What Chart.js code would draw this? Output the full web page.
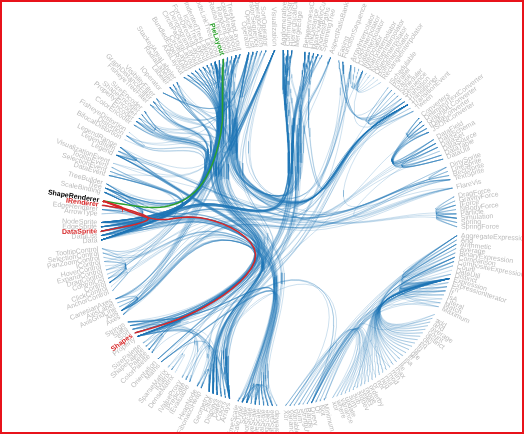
<!DOCTYPE html>
<html>
<head>
<meta charset="utf-8">
<script src="https://cdn.jsdelivr.net/npm/chart.js@4"></script>
<style>
  body { margin: 0; background: #fff; }
  #wrap { position: relative; width: 524px; height: 434px; }
  #frame { position: absolute; left: 0; top: 0; width: 524px; height: 434px; box-sizing: border-box;
           border: 2px solid #e8131b; pointer-events: none; }
</style>
</head>
<body>
<div id="wrap">
  <canvas id="bundle" width="524" height="434"></canvas>
  <div id="frame"></div>
</div>
<script>
'use strict';

// class names of the flare package
var classNames = [
  'analytics.cluster.AgglomerativeCluster', 'analytics.cluster.CommunityStructure', 'analytics.cluster.HierarchicalCluster', 'analytics.cluster.MergeEdge',
  'analytics.graph.BetweennessCentrality', 'analytics.graph.LinkDistance', 'analytics.graph.MaxFlowMinCut', 'analytics.graph.ShortestPaths', 'analytics.graph.SpanningTree',
  'analytics.optimization.AspectRatioBanker',
  'animate.Easing', 'animate.FunctionSequence', 'animate.interpolate.ArrayInterpolator', 'animate.interpolate.ColorInterpolator', 'animate.interpolate.DateInterpolator',
  'animate.interpolate.Interpolator', 'animate.interpolate.MatrixInterpolator', 'animate.interpolate.NumberInterpolator', 'animate.interpolate.ObjectInterpolator',
  'animate.interpolate.PointInterpolator', 'animate.interpolate.RectangleInterpolator', 'animate.ISchedulable', 'animate.Parallel', 'animate.Pause', 'animate.Scheduler',
  'animate.Sequence', 'animate.Transition', 'animate.Transitioner', 'animate.TransitionEvent', 'animate.Tween',
  'data.converters.Converters', 'data.converters.DelimitedTextConverter', 'data.converters.GraphMLConverter', 'data.converters.IDataConverter', 'data.converters.JSONConverter',
  'data.DataField', 'data.DataSchema', 'data.DataSet', 'data.DataSource', 'data.DataTable', 'data.DataUtil',
  'display.DirtySprite', 'display.LineSprite', 'display.RectSprite', 'display.TextSprite',
  'flex.FlareVis',
  'physics.DragForce', 'physics.GravityForce', 'physics.IForce', 'physics.NBodyForce', 'physics.Particle', 'physics.Simulation', 'physics.Spring', 'physics.SpringForce',
  'query.AggregateExpression', 'query.And', 'query.Arithmetic', 'query.Average', 'query.BinaryExpression', 'query.Comparison', 'query.CompositeExpression', 'query.Count',
  'query.DateUtil', 'query.Distinct', 'query.Expression', 'query.ExpressionIterator', 'query.Fn', 'query.If', 'query.IsA', 'query.Literal', 'query.Match', 'query.Maximum',
  'query.methods.add', 'query.methods.and', 'query.methods.average', 'query.methods.count', 'query.methods.distinct', 'query.methods.div', 'query.methods.eq',
  'query.methods.fn', 'query.methods.gt', 'query.methods.gte', 'query.methods.iff', 'query.methods.isa', 'query.methods.lt', 'query.methods.lte', 'query.methods.max',
  'query.methods.min', 'query.methods.mod', 'query.methods.mul', 'query.methods.neq', 'query.methods.not', 'query.methods.or', 'query.methods.orderby',
  'query.methods.range', 'query.methods.select', 'query.methods.stddev', 'query.methods.sub', 'query.methods.sum', 'query.methods.update', 'query.methods.variance',
  'query.methods.where', 'query.methods.xor', 'query.methods._',
  'query.Minimum', 'query.Not', 'query.Or', 'query.Query', 'query.Range', 'query.StringUtil', 'query.Sum', 'query.Variable', 'query.Variance', 'query.Xor',
  'scale.IScaleMap', 'scale.LinearScale', 'scale.LogScale', 'scale.OrdinalScale', 'scale.QuantileScale', 'scale.QuantitativeScale', 'scale.RootScale', 'scale.Scale',
  'scale.ScaleType', 'scale.TimeScale',
  'util.Arrays', 'util.Colors', 'util.Dates', 'util.Displays', 'util.Filter', 'util.Geometry', 'util.heap.FibonacciHeap', 'util.heap.HeapNode', 'util.IEvaluable',
  'util.IPredicate', 'util.IValueProxy', 'util.math.DenseMatrix', 'util.math.IMatrix', 'util.math.SparseMatrix', 'util.Maths', 'util.Orientation',
  'util.palette.ColorPalette', 'util.palette.Palette', 'util.palette.ShapePalette', 'util.palette.SizePalette', 'util.Property', 'util.Shapes', 'util.Sort',
  'util.Stats', 'util.Strings',
  'vis.axis.Axes', 'vis.axis.Axis', 'vis.axis.AxisGridLine', 'vis.axis.AxisLabel', 'vis.axis.CartesianAxes',
  'vis.controls.AnchorControl', 'vis.controls.ClickControl', 'vis.controls.Control', 'vis.controls.ControlList', 'vis.controls.DragControl', 'vis.controls.ExpandControl',
  'vis.controls.HoverControl', 'vis.controls.IControl', 'vis.controls.PanZoomControl', 'vis.controls.SelectionControl', 'vis.controls.TooltipControl',
  'vis.data.Data', 'vis.data.DataList', 'vis.data.DataSprite', 'vis.data.EdgeSprite', 'vis.data.NodeSprite', 'vis.data.render.ArrowType', 'vis.data.render.EdgeRenderer',
  'vis.data.render.IRenderer', 'vis.data.render.ShapeRenderer', 'vis.data.ScaleBinding', 'vis.data.Tree', 'vis.data.TreeBuilder',
  'vis.events.DataEvent', 'vis.events.SelectionEvent', 'vis.events.TooltipEvent', 'vis.events.VisualizationEvent',
  'vis.legend.Legend', 'vis.legend.LegendItem', 'vis.legend.LegendRange',
  'vis.operator.distortion.BifocalDistortion', 'vis.operator.distortion.Distortion', 'vis.operator.distortion.FisheyeDistortion',
  'vis.operator.encoder.ColorEncoder', 'vis.operator.encoder.Encoder', 'vis.operator.encoder.PropertyEncoder', 'vis.operator.encoder.ShapeEncoder', 'vis.operator.encoder.SizeEncoder',
  'vis.operator.filter.FisheyeTreeFilter', 'vis.operator.filter.GraphDistanceFilter', 'vis.operator.filter.VisibilityFilter', 'vis.operator.IOperator',
  'vis.operator.label.Labeler', 'vis.operator.label.RadialLabeler', 'vis.operator.label.StackedAreaLabeler',
  'vis.operator.layout.AxisLayout', 'vis.operator.layout.BundledEdgeRouter', 'vis.operator.layout.CircleLayout', 'vis.operator.layout.CirclePackingLayout',
  'vis.operator.layout.DendrogramLayout', 'vis.operator.layout.ForceDirectedLayout', 'vis.operator.layout.IcicleTreeLayout', 'vis.operator.layout.IndentedTreeLayout',
  'vis.operator.layout.Layout', 'vis.operator.layout.NodeLinkTreeLayout', 'vis.operator.layout.PieLayout', 'vis.operator.layout.RadialTreeLayout',
  'vis.operator.layout.RandomLayout', 'vis.operator.layout.StackedAreaLayout', 'vis.operator.layout.TreeMapLayout',
  'vis.operator.Operator', 'vis.operator.OperatorList', 'vis.operator.OperatorSequence', 'vis.operator.OperatorSwitch', 'vis.operator.SortOperator',
  'vis.Visualization'
];

// "Class: imported classes"
var imports = [
  'AgglomerativeCluster: Transitioner,DataList,DataSprite,EdgeSprite,NodeSprite,Operator,Property,Sort,Arrays',
  'CommunityStructure: HierarchicalCluster,Transitioner,DataList,DataSprite,NodeSprite,Operator,Arrays,Property,Sort,SparseMatrix,IMatrix',
  'HierarchicalCluster: EdgeSprite,NodeSprite,DataList,Tree,Arrays,Operator,Property',
  'BetweennessCentrality: FibonacciHeap,HeapNode,Data,DataList,NodeSprite,Operator,Property',
  'LinkDistance: Transitioner,Data,EdgeSprite,NodeSprite,Operator,Arrays,Property',
  'MaxFlowMinCut: Transitioner,Data,EdgeSprite,NodeSprite,Operator,Property',
  'ShortestPaths: FibonacciHeap,HeapNode,Data,DataSprite,EdgeSprite,NodeSprite,Operator,Arrays,Property',
  'SpanningTree: TreeBuilder,Operator,NodeSprite',
  'AspectRatioBanker: Arrays,Property,Data,Operator,CartesianAxes,Visualization',
  'FunctionSequence: Transition,Transitioner,Sequence,Property',
  'ArrayInterpolator: Arrays,Interpolator',
  'ColorInterpolator: Interpolator', 'DateInterpolator: Interpolator', 'MatrixInterpolator: Interpolator', 'NumberInterpolator: Interpolator',
  'ObjectInterpolator: Interpolator', 'PointInterpolator: Interpolator', 'RectangleInterpolator: Interpolator',
  'Interpolator: Property',
  'ISchedulable: Scheduler',
  'Parallel: Easing,Transition,Arrays',
  'Pause: Transition',
  'Scheduler: ISchedulable,Pause',
  'Sequence: Easing,Transition,Arrays',
  'Transition: Easing,TransitionEvent',
  'Transitioner: Easing,Transition,Tween,Parallel,Property,IValueProxy,Displays,DirtySprite',
  'TransitionEvent: Transition',
  'Tween: Transition,Interpolator,Property',
  'Converters: IDataConverter,GraphMLConverter,JSONConverter,DelimitedTextConverter',
  'DelimitedTextConverter: DataSet,DataUtil,DataTable,DataSchema,DataField,IDataConverter',
  'GraphMLConverter: DataSet,DataUtil,DataTable,DataSchema,DataField,IDataConverter',
  'IDataConverter: DataSet,DataSchema',
  'JSONConverter: DataSet,DataUtil,DataTable,DataSchema,DataField,IDataConverter,Property',
  'DataField: DataUtil',
  'DataSchema: DataField,DataUtil',
  'DataSet: DataTable',
  'DataSource: Converters,IDataConverter',
  'DataTable: DataSchema',
  'DataUtil: DataField,DataSchema',
  'LineSprite: DirtySprite', 'RectSprite: DirtySprite', 'TextSprite: DirtySprite',
  'FlareVis: DataSet,Visualization,Axes,ControlList,Data,NodeSprite,Tree',
  'DragForce: Particle,IForce', 'GravityForce: Particle,IForce', 'IForce: Simulation', 'NBodyForce: Particle,IForce',
  'Simulation: Particle,Spring,IForce,DragForce,GravityForce,NBodyForce,SpringForce',
  'Spring: Particle', 'SpringForce: Particle,Spring,IForce',
  'AggregateExpression: Expression', 'And: CompositeExpression,Expression', 'Arithmetic: BinaryExpression,Expression',
  'Average: AggregateExpression,Expression', 'BinaryExpression: Expression', 'Comparison: BinaryExpression,Expression',
  'CompositeExpression: Expression,If', 'Count: AggregateExpression,Expression', 'DateUtil: Fn', 'Distinct: AggregateExpression,Expression',
  'Expression: ExpressionIterator,If', 'ExpressionIterator: Expression', 'Fn: CompositeExpression,Expression', 'If: Expression',
  'IsA: Expression,If', 'Literal: Expression', 'Match: BinaryExpression,Expression,StringUtil', 'Maximum: AggregateExpression,Expression',
  'add: Arithmetic,Expression', 'and: And,Expression', 'average: Average,Expression', 'count: Count,Expression', 'distinct: Distinct,Expression',
  'div: Arithmetic,Expression', 'eq: Comparison,Expression', 'fn: Fn,Expression', 'gt: Comparison,Expression', 'gte: Comparison,Expression',
  'iff: If,Expression', 'isa: IsA,Expression', 'lt: Comparison,Expression', 'lte: Comparison,Expression', 'max: Maximum,Expression',
  'min: Minimum,Expression', 'mod: Arithmetic,Expression', 'mul: Arithmetic,Expression', 'neq: Comparison,Expression', 'not: Not,Expression',
  'or: Or,Expression', 'orderby: Query,Expression', 'range: Range,Expression', 'select: Query,Expression', 'stddev: Variance,Expression',
  'sub: Arithmetic,Expression', 'sum: Sum,Expression', 'update: Query,Expression', 'variance: Variance,Expression', 'where: Query,Expression',
  'xor: Xor,Expression', '_: Query,Expression',
  'Minimum: AggregateExpression,Expression', 'Not: Expression', 'Or: CompositeExpression,Expression',
  'Query: AggregateExpression,Expression,ExpressionIterator,Property,Sort,Filter,Variable,Literal,If',
  'Range: And,Comparison,Expression', 'StringUtil: Fn', 'Sum: AggregateExpression,Expression', 'Variable: Expression,Property',
  'Variance: AggregateExpression,Expression', 'Xor: CompositeExpression,Expression',
  'IScaleMap: Scale', 'LinearScale: QuantitativeScale,Maths,Strings,ScaleType', 'LogScale: QuantitativeScale,Maths,Strings,ScaleType',
  'OrdinalScale: Scale,ScaleType', 'QuantileScale: Scale,Maths,Strings,ScaleType', 'QuantitativeScale: Scale,Maths,Strings',
  'RootScale: QuantitativeScale,Maths,Strings', 'Scale: ScaleType,Strings', 'ScaleType: Scale', 'TimeScale: Scale,Dates,Maths',
  'Arrays: Property', 'Colors: Filter', 'Dates: Maths', 'Displays: Property,IEvaluable,IPredicate', 'Filter: IPredicate,Property',
  'FibonacciHeap: HeapNode', 'HeapNode: FibonacciHeap', 'DenseMatrix: IMatrix', 'SparseMatrix: IMatrix', 'Maths: Arrays',
  'ColorPalette: Palette,Colors', 'ShapePalette: Palette,Shapes', 'SizePalette: Palette', 'Property: IPredicate,IValueProxy,IEvaluable',
  'Shapes: ArrayInterpolator,Geometry', 'Sort: Arrays,Property', 'Stats: Arrays,Property,Dates', 'Strings: Dates,Property',
  'Axes: Transitioner,Visualization',
  'Axis: Transitioner,LinearScale,LogScale,OrdinalScale,QuantitativeScale,Scale,TimeScale,TextSprite,LineSprite,Arrays,Displays,Orientation,Stats,Strings,Property,AxisGridLine,AxisLabel',
  'AxisGridLine: Axis,LineSprite', 'AxisLabel: Axis,TextSprite', 'CartesianAxes: Axis,Axes,Transitioner,Visualization',
  'AnchorControl: Control,Visualization,Layout', 'ClickControl: Control', 'Control: IControl,Filter', 'ControlList: IControl,Filter,Visualization',
  'DragControl: Control,DataSprite', 'ExpandControl: Control,NodeSprite,Visualization,Transitioner', 'HoverControl: Control', 'IControl: Control',
  'PanZoomControl: Control,Displays', 'SelectionControl: Control,Geometry,Displays,SelectionEvent', 'TooltipControl: Control,TextSprite,Displays,TooltipEvent',
  'Data: DataSet,DataTable,DataSchema,DataField,DataList,DataSprite,EdgeSprite,NodeSprite,ScaleBinding,Tree,TreeBuilder,Arrays,Property,Sort,DataEvent',
  'DataList: ArrayInterpolator,Stats,Property,Sort,Data,DataSprite,EdgeSprite,NodeSprite,Arrays,DataEvent,ScaleBinding,Filter,Scale,ScaleType',
  'DataSprite: DirtySprite,Data,IRenderer,Colors',
  'EdgeSprite: DataSprite,NodeSprite,EdgeRenderer,IRenderer,ArrowType',
  'NodeSprite: DataSprite,EdgeSprite,Tree,Arrays,Filter,IEvaluable,Sort',
  'EdgeRenderer: DataSprite,EdgeSprite,NodeSprite,IRenderer,ArrowType,Geometry,Shapes',
  'IRenderer: DataSprite',
  'ShapeRenderer: DataSprite,IRenderer,Shapes',
  'ScaleBinding: Data,Scale,ScaleType,LinearScale,LogScale,OrdinalScale,RootScale,QuantileScale,TimeScale,Stats,Property',
  'Tree: EdgeSprite,NodeSprite,Data,Arrays,DataList',
  'TreeBuilder: Tree,EdgeSprite,NodeSprite,Data,FibonacciHeap,HeapNode',
  'DataEvent: Data,DataList,DataSprite,EdgeSprite,NodeSprite', 'SelectionEvent: DataSprite,NodeSprite,EdgeSprite',
  'TooltipEvent: NodeSprite,EdgeSprite', 'VisualizationEvent: Transitioner',
  'Legend: Transitioner,TextSprite,RectSprite,LegendItem,LegendRange,Palette,ColorPalette,ShapePalette,SizePalette,Scale,ScaleType,Orientation,Displays,Stats,Strings,Data,Visualization',
  'LegendItem: TextSprite,RectSprite,Shapes,Legend',
  'LegendRange: LegendItem,RectSprite,Colors,Orientation,Stats,Legend,IScaleMap,Scale,ColorPalette',
  'BifocalDistortion: Distortion', 'Distortion: Layout,Data,DataSprite,Axis,CartesianAxes,Transitioner', 'FisheyeDistortion: Distortion',
  'ColorEncoder: Encoder,ColorPalette,Palette,ScaleType,Data',
  'Encoder: Operator,Data,DataSprite,ScaleBinding,Palette,Property,Transitioner,Filter',
  'PropertyEncoder: Operator,Data,Filter,Transitioner,Property',
  'ShapeEncoder: Encoder,ShapePalette,Palette,ScaleType,Data', 'SizeEncoder: Encoder,SizePalette,Palette,ScaleType,Data',
  'FisheyeTreeFilter: Operator,Transitioner,Data,NodeSprite,Tree,Filter',
  'GraphDistanceFilter: Operator,Transitioner,Data,NodeSprite,EdgeSprite,DataSprite,Filter',
  'VisibilityFilter: Operator,Transitioner,Data,DataSprite,Filter',
  'IOperator: Visualization,Transitioner',
  'Labeler: Operator,Transitioner,Data,DataSprite,TextSprite,Property,Filter,Shapes',
  'RadialLabeler: Labeler,Data,DataSprite,TextSprite,Shapes,Geometry',
  'StackedAreaLabeler: Labeler,Data,NodeSprite,TextSprite,Shapes',
  'AxisLayout: Layout,Data,DataSprite,ScaleBinding,CartesianAxes,Axis,Transitioner,Property',
  'BundledEdgeRouter: Operator,Data,DataSprite,EdgeSprite,NodeSprite,Shapes,Arrays,Transitioner,Geometry',
  'CircleLayout: Layout,Data,NodeSprite,DataList,ScaleBinding,Transitioner,Property,Stats',
  'CirclePackingLayout: Layout,Data,NodeSprite,Transitioner,Property,Shapes,Sort,Geometry',
  'DendrogramLayout: Layout,Data,NodeSprite,EdgeSprite,Tree,Orientation,Transitioner,Shapes',
  'ForceDirectedLayout: Layout,Data,NodeSprite,EdgeSprite,DataSprite,Simulation,Particle,Spring,Transitioner',
  'IcicleTreeLayout: Layout,Data,NodeSprite,Tree,Orientation,Transitioner',
  'IndentedTreeLayout: Layout,Data,NodeSprite,EdgeSprite,Transitioner,ArrayInterpolator',
  'Layout: Operator,Data,DataList,DataSprite,EdgeSprite,NodeSprite,Tree,Transitioner,Visualization,Property,Axes,CartesianAxes,Geometry',
  'NodeLinkTreeLayout: Layout,Data,NodeSprite,Tree,Orientation,Transitioner,Arrays',
  'PieLayout: Layout,Data,DataList,DataSprite,Shapes,Transitioner,Property,ShapeRenderer',
  'RadialTreeLayout: Layout,Data,NodeSprite,Tree,Transitioner,ArrayInterpolator',
  'RandomLayout: Layout,Data,DataSprite,Transitioner',
  'StackedAreaLayout: Layout,Data,NodeSprite,CartesianAxes,Axis,Scale,ScaleType,LinearScale,QuantitativeScale,Arrays,Maths,Orientation,Stats,Transitioner',
  'TreeMapLayout: Layout,Data,NodeSprite,Tree,Transitioner,Property,Arrays',
  'Operator: IOperator,Visualization,Transitioner,Property',
  'OperatorList: IOperator,Operator,Visualization,Transitioner,Arrays',
  'OperatorSequence: IOperator,Operator,OperatorList,FunctionSequence,Transitioner,Arrays',
  'OperatorSwitch: IOperator,OperatorList,Transitioner',
  'SortOperator: Operator,Data,Sort,Transitioner',
  'Visualization: Transitioner,Data,DataList,DataSprite,Tree,Axes,CartesianAxes,ControlList,IControl,DataEvent,VisualizationEvent,OperatorList,IOperator,Displays,Property,Geometry'
];

var focusNode = 'ShapeRenderer';

var cx = 279, cy = 228, innerRadius = 178, beta = 0.85;

// build the package tree (case-insensitive order)
var sorted = classNames.slice().sort(function (a, b) {
    var x = a.toLowerCase(), y = b.toLowerCase();
    return x < y ? -1 : x > y ? 1 : 0;
});
var root = { name: '', children: [], parent: null };
var byName = {};
sorted.forEach(function (full) {
    var parts = ('flare.' + full).split('.');
    var node = root;
    parts.forEach(function (p) {
        var child = node.children.find(function (c) { return c.name === p; });
        if (!child) {
            child = { name: p, children: [], parent: node };
            node.children.push(child);
        }
        node = child;
    });
    byName[parts[parts.length - 1]] = node;
});

// cluster layout
var leaves = [];
function walk(n) { if (!n.children.length) leaves.push(n); n.children.forEach(walk); }
walk(root);
function sep(a, b) { return a.parent === b.parent ? 1 : 2; }
var pos = 0, prev = null;
leaves.forEach(function (l) { pos += prev ? sep(prev, l) : 0; l.x = pos; prev = l; });
function settle(n) {
    if (!n.children.length) { n.h = 0; return; }
    n.children.forEach(settle);
    n.x = n.children.reduce(function (s, c) { return s + c.x; }, 0) / n.children.length;
    n.h = 1 + Math.max.apply(null, n.children.map(function (c) { return c.h; }));
}
settle(root);
var x0 = leaves[0].x - sep(leaves[0], leaves[leaves.length - 1]) / 2;
var x1 = leaves[leaves.length - 1].x + sep(leaves[leaves.length - 1], leaves[0]) / 2;
function place(n) {
    n.angle = (n.x - x0) / (x1 - x0) * 360;
    n.r = (1 - n.h / root.h) * innerRadius;
    var a = n.angle * Math.PI / 180;
    n.px = cx + n.r * Math.sin(a);
    n.py = cy - n.r * Math.cos(a);
    n.children.forEach(place);
}
place(root);

function ancestors(n) { var out = []; while (n) { out.push(n); n = n.parent; } return out; }
function treePath(s, t) {
    var sa = ancestors(s), ta = ancestors(t);
    var lca = sa.find(function (n) { return ta.indexOf(n) >= 0; });
    var up = sa.slice(0, sa.indexOf(lca) + 1);
    var down = ta.slice(0, ta.indexOf(lca)).reverse();
    return up.concat(down);
}

// bundle: straighten then cubic B-spline
function bundle(nodes) {
    var n = nodes.length - 1;
    var p0 = nodes[0], pn = nodes[n];
    var pts = nodes.map(function (d, i) {
        var t = i / n;
        return {
            x: beta * d.px + (1 - beta) * (p0.px + t * (pn.px - p0.px)),
            y: beta * d.py + (1 - beta) * (p0.py + t * (pn.py - p0.py))
        };
    });
    var c = [pts[0], pts[0]].concat(pts, [pts[n], pts[n]]);
    var out = [];
    for (var i = 0; i + 3 < c.length; i++) {
        for (var k = 0; k <= 8; k++) {
            if (k === 0 && i > 0) continue;
            var t = k / 8, t2 = t * t, t3 = t2 * t;
            var b0 = (1 - 3 * t + 3 * t2 - t3) / 6, b1 = (4 - 6 * t2 + 3 * t3) / 6,
                b2 = (1 + 3 * t + 3 * t2 - 3 * t3) / 6, b3 = t3 / 6;
            out.push({
                x: b0 * c[i].x + b1 * c[i + 1].x + b2 * c[i + 2].x + b3 * c[i + 3].x,
                y: b0 * c[i].y + b1 * c[i + 1].y + b2 * c[i + 2].y + b3 * c[i + 3].y
            });
        }
    }
    return out;
}

var linkState = {};
var datasets = [];
imports.forEach(function (line) {
    var parts = line.split(':');
    var src = parts[0].trim();
    parts[1].split(',').forEach(function (tname) {
        tname = tname.trim();
        var s = byName[src], t = byName[tname];
        if (!s || !t) return;
        var color = 'rgba(31,119,180,0.28)', width = 0.8, order = 2;
        if (src === focusNode) { color = '#d62728'; width = 1.5; order = 0; linkState[tname] = 'target'; }
        else if (tname === focusNode) { color = '#2ca02c'; width = 1.5; order = 0; linkState[src] = 'source'; }
        datasets.push({
            data: bundle(treePath(s, t)),
            showLine: true, pointRadius: 0, borderColor: color, borderWidth: width, order: order, tension: 0
        });
    });
});

var labelPlugin = {
    id: 'leafLabels',
    afterDatasetsDraw: function (chart) {
        var ctx = chart.ctx;
        var sx = chart.scales.x, sy = chart.scales.y;
        leaves.forEach(function (l) {
            var st = l.name === focusNode ? 'focus' : linkState[l.name];
            ctx.save();
            ctx.translate(sx.getPixelForValue(cx), sy.getPixelForValue(cy));
            ctx.rotate((l.angle - 90) * Math.PI / 180);
            ctx.translate(innerRadius + 4, 0);
            if (l.angle >= 180) { ctx.rotate(Math.PI); ctx.textAlign = 'end'; } else { ctx.textAlign = 'start'; }
            ctx.textBaseline = 'middle';
            ctx.font = (st ? 'bold ' : '') + '7px "Liberation Sans", Arial, sans-serif';
            ctx.fillStyle = st === 'focus' ? '#000' : st === 'target' ? '#d62728' : st === 'source' ? '#2ca02c' : '#bbbbbb';
            ctx.fillText(l.name, 0, 0);
            ctx.restore();
        });
    }
};

new Chart(document.getElementById('bundle').getContext('2d'), {
    type: 'scatter',
    data: { datasets: datasets },
    options: {
        responsive: false,
        animation: false,
        layout: { padding: 0 },
        scales: {
            x: { type: 'linear', display: false, min: 0, max: 524 },
            y: { type: 'linear', display: false, min: 0, max: 434, reverse: true }
        },
        plugins: { legend: { display: false }, tooltip: { enabled: false } },
        events: []
    },
    plugins: [labelPlugin]
});
</script>
</body>
</html>
